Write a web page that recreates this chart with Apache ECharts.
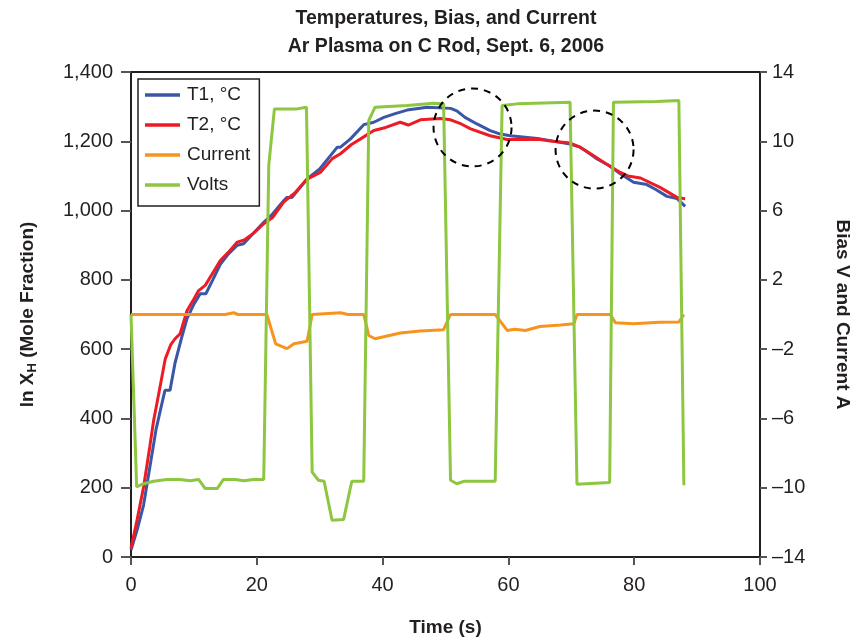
<!DOCTYPE html>
<html>
<head>
<meta charset="utf-8">
<script src="https://cdn.jsdelivr.net/npm/echarts@6/dist/echarts.min.js"></script>
<style>html,body{margin:0;padding:0;background:#fff}#c{width:855px;height:642px}</style>
</head>
<body>
<div id="c"></div>
<script>
// ---- data ----
var t1Time = [0,1,2,3,4,5,5.4,6.2,7,8,8.9,10,11,11.9,13,14.2,15.5,16.9,17.9,19.5,21.1,22.5,24.3,24.8,25.6,28,30,32,32.8,33.3,34.9,37,38.6,40.2,42,43.9,47.1,50.8,51.8,53.1,55,57.1,58.5,60.3,65,69.8,71.4,72.5,74.1,76,77.8,79.9,82,83.5,85.2,86.8,88.1];
var t1Vals = [20,80,150,260,370,450,481,481,560,630,688,730,760,760,800,845,875,900,904,935,966,990,1029,1038,1038,1091,1120,1165,1183,1183,1207,1248,1255,1269,1280,1290,1298,1295,1288,1269,1250,1231,1222,1216,1207,1192,1183,1170,1149,1130,1106,1082,1075,1060,1041,1035,1012];
var t2Time = [0,1,2,3,3.6,4.5,5.45,6.3,7,7.8,8.9,10,10.75,11.8,13,14.2,15.5,16.9,18,19.5,21.1,22.5,24.3,26,28,30.1,32,33.3,35,36.5,38.6,40.5,42.8,44.1,46,49.2,50.8,52.5,54,57.1,59.8,65,67,69.8,71.4,73.5,75.5,77.8,79,81,84.1,86.8,88.1];
var t2Vals = [25,110,202,320,394,480,572,612,630,644,711,745,769,784,820,856,880,909,915,935,962,980,1025,1050,1091,1110,1150,1164,1190,1207,1231,1240,1255,1247,1262,1266,1262,1250,1236,1216,1205,1205,1200,1195,1183,1159,1135,1110,1100,1094,1067,1038,1034];
var curTime = [0,15,16.3,17,21.6,23,24.8,25.9,28,28.8,33.3,34.5,37,37.8,38.8,42.8,46,49.7,50.8,57.9,59,59.8,61,62.7,65,68.3,70.4,70.9,76.2,77,79.9,84,87.1,87.9];
var curVals = [0,0,0.1,0,0,-1.69,-1.97,-1.69,-1.54,0,0.1,0,0,-1.21,-1.4,-1.07,-0.95,-0.88,0,0,-0.53,-0.92,-0.85,-0.92,-0.69,-0.6,-0.53,0,0,-0.47,-0.53,-0.45,-0.44,0];
var voltTime = [0,0.9,2,3.6,5.7,7.8,9.4,10.75,11.8,13.7,14.7,16.6,17.9,19.5,21.1,21.9,22.8,26.4,27.9,28.8,29.8,30.7,31.96,33.8,35.1,37,37.8,38.8,43.9,48.1,49.7,50.8,51.8,52.9,57.9,59,61.4,69.8,70.1,70.9,76.1,76.7,83.6,87.1,87.9];
var voltVals = [0,-9.95,-9.77,-9.63,-9.52,-9.52,-9.6,-9.52,-10.05,-10.05,-9.52,-9.52,-9.6,-9.52,-9.52,8.6,11.87,11.87,11.97,-9.1,-9.57,-9.63,-11.88,-11.84,-9.63,-9.63,11.2,11.97,12.06,12.2,12.16,-9.57,-9.77,-9.63,-9.63,12.06,12.16,12.26,12.26,-9.8,-9.7,12.26,12.3,12.35,-9.86];
var circleCenters = [[54.3,1240],[73.7,1176]];

function zip(a,b){return a.map(function(x,i){return [x,b[i]];});}

var FONT = 'Liberation Sans, Arial, sans-serif';
var chart = echarts.init(document.getElementById('c'), null, {renderer:'canvas'});
var axisCol = '#231f20';
var option = {
  animation:false,
  backgroundColor:'#fff',
  textStyle:{fontFamily:FONT},
  title:{
    text:'Temperatures, Bias, and Current\nAr Plasma on C Rod, Sept. 6, 2006',
    left:441, textAlign:'center', top:0,
    textStyle:{fontFamily:FONT,fontSize:19.5,fontWeight:'bold',color:'#231f20',lineHeight:28}
  },
  legend:{
    left:138, top:79, orient:'vertical',
    padding:[6,9,11,7], itemGap:10, itemWidth:35, itemHeight:3.5, icon:'rect',
    borderColor:'#231f20', borderWidth:1.5,
    textStyle:{fontFamily:FONT,fontSize:19,color:'#231f20',lineHeight:20,padding:[0,0,0,2]},
    data:['T1, °C','T2, °C','Current','Volts']
  },
  grid:{left:131,right:95,top:72,bottom:85,show:true,borderColor:axisCol,borderWidth:2,containLabel:false,outerBoundsMode:'none'},
  xAxis:{
    type:'value',min:0,max:100,interval:20,
    name:'Time (s)',nameLocation:'middle',nameGap:61,
    nameTextStyle:{fontFamily:FONT,fontSize:19,fontWeight:'bold',color:'#231f20'},
    axisLine:{show:true,lineStyle:{color:axisCol,width:2}},
    axisTick:{show:true,length:8,lineStyle:{color:'#555',width:2}},
    axisLabel:{fontFamily:FONT,fontSize:20,color:'#231f20',margin:18},
    splitLine:{show:false}
  },
  yAxis:[{
    type:'value',min:0,max:1400,interval:200,position:'left',
    name:'{a|ln X}{s|H}{a| (Mole Fraction)}',nameLocation:'middle',nameGap:92,nameRotate:90,
    nameTextStyle:{rich:{
      a:{fontFamily:FONT,fontSize:19,fontWeight:'bold',color:'#231f20'},
      s:{fontFamily:FONT,fontSize:13,fontWeight:'bold',color:'#231f20',verticalAlign:'bottom',padding:[10,0,0,0]}
    }},
    axisLine:{show:true,lineStyle:{color:axisCol,width:2}},
    axisTick:{show:true,length:10,lineStyle:{color:'#555',width:2}},
    axisLabel:{fontFamily:FONT,fontSize:20,color:'#231f20',margin:18,
      formatter:function(v){return v.toLocaleString('en-US');}},
    splitLine:{show:false}
  },{
    type:'value',min:-14,max:14,interval:4,position:'right',
    name:'Bias V and Current A',nameLocation:'middle',nameGap:73,nameRotate:-90,
    nameTextStyle:{fontFamily:FONT,fontSize:19,fontWeight:'bold',color:'#231f20'},
    axisLine:{show:true,lineStyle:{color:axisCol,width:2}},
    axisTick:{show:true,length:7,lineStyle:{color:'#555',width:2}},
    axisLabel:{fontFamily:FONT,fontSize:20,color:'#231f20',margin:12,
      formatter:function(v){return v<0?'\u2013'+Math.abs(v):String(v);}},
    splitLine:{show:false}
  }],
  series:[
    {name:'T1, °C',type:'line',yAxisIndex:0,symbol:'none',data:zip(t1Time,t1Vals),
      lineStyle:{color:'#3a56a6',width:3},itemStyle:{color:'#3a56a6'}},
    {name:'T2, °C',type:'line',yAxisIndex:0,symbol:'none',data:zip(t2Time,t2Vals),
      lineStyle:{color:'#ed1c24',width:3},itemStyle:{color:'#ed1c24'}},
    {name:'Current',type:'line',yAxisIndex:1,symbol:'none',data:zip(curTime,curVals),
      lineStyle:{color:'#f7941d',width:3},itemStyle:{color:'#f7941d'}},
    {name:'Volts',type:'line',yAxisIndex:1,symbol:'none',data:zip(voltTime,voltVals),
      lineStyle:{color:'#8dc63f',width:3},itemStyle:{color:'#8dc63f'}}
  ]
};
chart.setOption(option);
var g = circleCenters.map(function(c){
  var p = chart.convertToPixel({xAxisIndex:0,yAxisIndex:0}, c);
  return {type:'circle',shape:{cx:p[0],cy:p[1],r:39},z:100,
    style:{fill:null,stroke:'#000',lineWidth:2,lineDash:[7,6]}};
});
chart.setOption({graphic:g});
</script>
</body>
</html>
